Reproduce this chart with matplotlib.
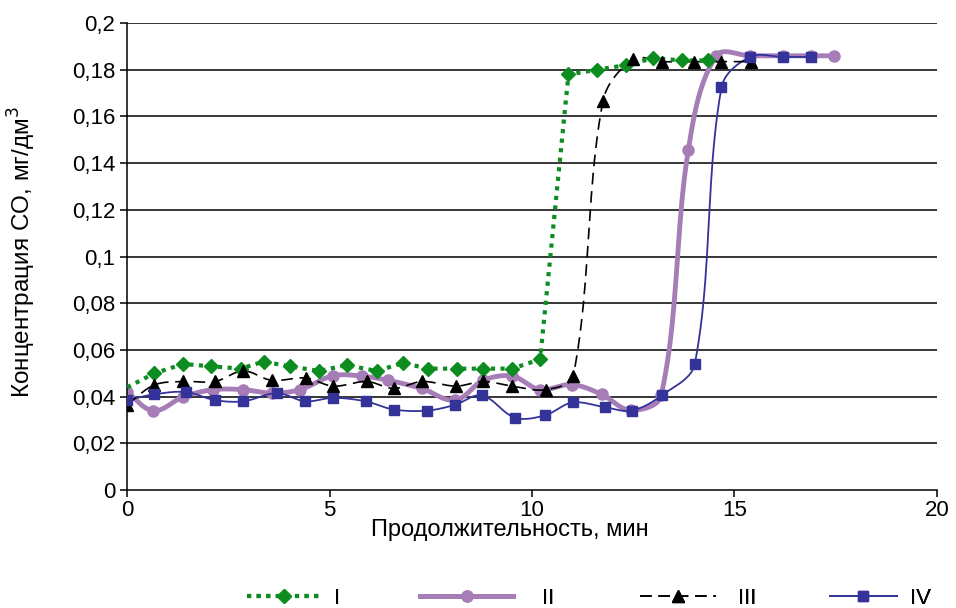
import numpy as np
import matplotlib
matplotlib.use("Agg")
import matplotlib.pyplot as plt
from matplotlib.lines import Line2D

plt.rcParams['font.family'] = ['Liberation Sans', 'DejaVu Sans']

# данные (мин, мг/дм3)
t_I = [0, 0.67, 1.39, 2.07, 2.8, 3.37, 4.02, 4.74, 5.42, 6.17, 6.82, 7.42, 8.14, 8.8, 9.51,
       10.2, 10.9, 11.6, 12.32, 13.0, 13.71, 14.35]
v_I = [0.044, 0.050, 0.054, 0.053, 0.052, 0.055, 0.053, 0.051, 0.0535, 0.051, 0.0545, 0.052,
       0.052, 0.052, 0.052, 0.056, 0.178, 0.180, 0.182, 0.185, 0.184, 0.184]

t_II = [0, 0.65, 1.39, 2.13, 2.87, 3.57, 4.27, 5.09, 5.8, 6.45, 7.28, 8.1, 8.8, 9.51, 10.2,
        10.98, 11.72, 12.44, 13.19, 13.86, 14.55, 15.38, 16.2, 16.9, 17.45]
v_II = [0.042, 0.034, 0.040, 0.043, 0.043, 0.0415, 0.043, 0.049, 0.0488, 0.047, 0.0435, 0.0385,
        0.047, 0.0488, 0.043, 0.0452, 0.041, 0.0342, 0.0405, 0.1456, 0.186, 0.186, 0.186, 0.186, 0.186]

t_III = [0, 0.67, 1.39, 2.17, 2.87, 3.57, 4.41, 5.09, 5.92, 6.58, 7.29, 8.12, 8.8, 9.51, 10.34,
         11.02, 11.75, 12.5, 13.2, 14.0, 14.68, 15.42]
v_III = [0.0365, 0.045, 0.0465, 0.0465, 0.051, 0.047, 0.048, 0.0445, 0.0465, 0.0435, 0.0465,
         0.0445, 0.0465, 0.0445, 0.043, 0.049, 0.1665, 0.1845, 0.1835, 0.1835, 0.1835, 0.1835]

t_IV = [0, 0.67, 1.45, 2.17, 2.87, 3.7, 4.4, 5.09, 5.89, 6.58, 7.4, 8.1, 8.76, 9.58, 10.32,
        11.0, 11.8, 12.46, 13.2, 14.02, 14.68, 15.38, 16.2, 16.9]
v_IV = [0.0385, 0.041, 0.042, 0.0385, 0.038, 0.0415, 0.038, 0.0395, 0.038, 0.0345, 0.034, 0.0365,
        0.0405, 0.031, 0.032, 0.0375, 0.0355, 0.034, 0.0405, 0.054, 0.1725, 0.1855, 0.1855, 0.1855]

labels = ["I", "II", "III", "IV"]


def smooth(x, y, n=24, k=0.33):
    # сглаживание как в Excel: Безье, касательная по соседям, плечо по длине отрезка
    # считаем в "пикселях", чтобы масштаб осей не искажал форму
    sx, sy = 40.5, 2335.0
    P = np.column_stack([np.asarray(x, float) * sx, np.asarray(y, float) * sy])
    m = len(P)
    T = np.zeros_like(P)
    for i in range(m):
        d = P[min(i + 1, m - 1)] - P[max(i - 1, 0)]
        T[i] = d / np.hypot(*d)
    s = np.linspace(0, 1, n)[:, None]
    out = []
    for i in range(m - 1):
        L = np.hypot(*(P[i + 1] - P[i]))
        c1 = P[i] + T[i] * L * k
        c2 = P[i + 1] - T[i + 1] * L * k
        b = (1 - s) ** 3 * P[i] + 3 * (1 - s) ** 2 * s * c1 + 3 * (1 - s) * s ** 2 * c2 + s ** 3 * P[i + 1]
        out.append(b)
    out = np.vstack(out)
    return out[:, 0] / sx, out[:, 1] / sy


green = "#0d8c1f"
purple = "#a67db6"
navy = "#333399"

fig = plt.figure(figsize=(9.56, 6.08), dpi=100)
ax = fig.add_axes([0.133, 0.194, 0.847, 0.768])

for y in np.arange(0.02, 0.201, 0.02):
    ax.axhline(y, color="black", lw=1.1, zorder=1)

# IV
sx, sy = smooth(t_IV, v_IV)
ax.plot(sx, sy, color=navy, lw=1.3, zorder=3)
ax.plot(t_IV, v_IV, ls="none", marker="s", ms=7.5, color=navy, zorder=6)

# III
sx, sy = smooth(t_III, v_III)
ax.plot(sx, sy, color="black", lw=1.2, ls=(0, (7, 4)), zorder=4)
ax.plot(t_III, v_III, ls="none", marker="^", ms=8.5, color="black", zorder=5)

# II
sx, sy = smooth(t_II, v_II)
ax.plot(sx, sy, color=purple, lw=3.5, zorder=2)
ax.plot(t_II, v_II, ls="none", marker="o", ms=8, color=purple, zorder=2)

# I
ax.plot(t_I, v_I, color=green, lw=3, ls=(0, (1, 1.3)), marker="D", ms=7,
        markevery=list(range(1, len(t_I))), zorder=4)

ax.set_xlim(0, 20)
ax.set_ylim(0, 0.2)
ax.set_xticks([0, 5, 10, 15, 20])
ax.set_yticks(np.arange(0, 0.201, 0.02))
ax.set_yticklabels(["0"] + [f"{v:.2f}".rstrip("0").replace(".", ",") for v in np.arange(0.02, 0.201, 0.02)])
ax.tick_params(axis="both", labelsize=16, length=5, width=1.1, color="black")
ax.tick_params(axis="x", pad=2)
for side in ["top", "right"]:
    ax.spines[side].set_visible(False)
ax.spines["left"].set_linewidth(1.1)
ax.spines["bottom"].set_linewidth(1.1)
ax.set_xlabel("Продолжительность, мин", fontsize=17)
ax.set_ylabel("Концентрация СО, мг/дм$^3$", fontsize=17.5)
ax.xaxis.set_label_coords(0.472, -0.062)
ax.yaxis.set_label_coords(-0.11, 0.51)

handles = [
    Line2D([], [], color=green, lw=3, ls=(0, (1, 1.3)), marker="D", ms=7),
    Line2D([], [], color=purple, lw=3.5, marker="o", ms=8),
    Line2D([], [], color="black", lw=1.2, ls=(0, (7, 4)), marker="^", ms=8.5),
    Line2D([], [], color=navy, lw=1.3, marker="s", ms=7.5),
]
# легенда снизу, элементы расставлены как в исходнике
leg_x = [247, 420, 640, 830]
leg_len = [3.3, 4.2, 3.4, 3.0]
leg_pad = [0.6, 1.3, 1.0, 0.6]
for h, lab, xp, hl, tp in zip(handles, labels, leg_x, leg_len, leg_pad):
    lg = fig.legend([h], [lab], loc="center left", bbox_to_anchor=(xp / 956, 10 / 608),
                    frameon=False, fontsize=16, handlelength=hl, handletextpad=tp,
                    borderpad=0, borderaxespad=0)
    fig.add_artist(lg)

fig.savefig("out.png", dpi=100)
